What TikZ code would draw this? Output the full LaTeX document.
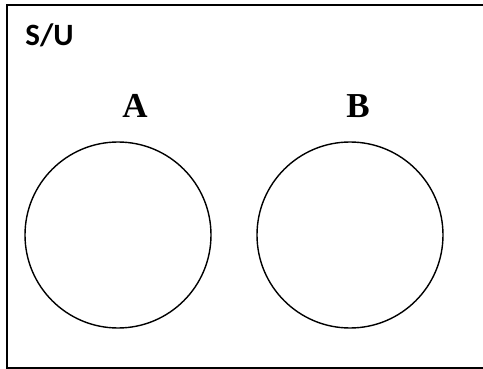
\documentclass[tikz,border=0pt]{standalone}
\usepackage{fontspec}
\setmainfont{Liberation Serif}
\newfontfamily\calib{Carlito}
\begin{document}
\begin{tikzpicture}[x=1pt,y=-1pt,
  setcircle/.style={draw=black,line width=1.4pt,circle,minimum size=186pt,inner sep=0pt},
  setlabel/.style={font=\fontsize{35}{35}\selectfont\bfseries,inner sep=0pt},
  framebox/.style={draw=black,line width=1.6pt}]
\useasboundingbox (0,0) rectangle (483,369);
\begin{scope}
\clip (0,0) rectangle (483,369);
\draw[framebox] (7,5) rectangle (490,368);
\end{scope}
\node[inner sep=0pt,font=\calib\fontsize{31}{31}\selectfont\bfseries] (su) at (49.5,35) {S/U};
\node[setlabel] (la) at (135,106) {A};
\node[setlabel] (lb) at (358,106) {B};
\node[setcircle] (ca) at (118,235) {};
\node[setcircle] (cb) at (350,235) {};
\end{tikzpicture}
\end{document}
